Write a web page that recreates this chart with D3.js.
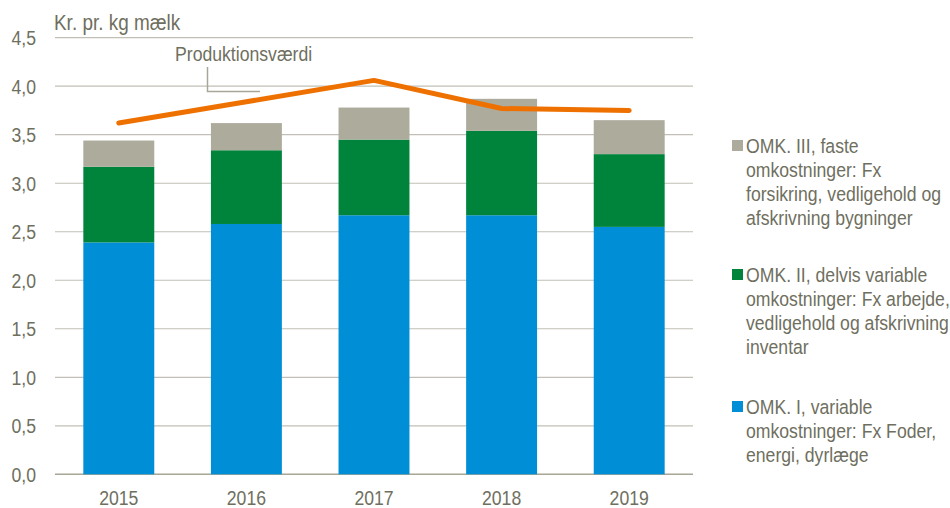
<!DOCTYPE html>
<html>
<head>
<meta charset="utf-8">
<script src="https://cdn.jsdelivr.net/npm/d3@7"></script>
<style>
  body { margin: 0; background: #fff; }
  svg text { font-family: "Liberation Sans", Arial, sans-serif; fill: #6f6f60; }
</style>
</head>
<body>
<svg id="chart" width="950" height="508"></svg>
<script>
const width = 950, height = 508;

// data
const years = ['2015', '2016', '2017', '2018', '2019'];
const omk1 = [2.39, 2.58, 2.67, 2.67, 2.55];   // variable
const omk2 = [0.78, 0.76, 0.78, 0.87, 0.75];   // delvis variable
const omk3 = [0.27, 0.28, 0.33, 0.33, 0.35];   // faste
const produktion = [3.62, 3.84, 4.06, 3.77, 3.75];
const yTicks = [0, 0.5, 1, 1.5, 2, 2.5, 3, 3.5, 4, 4.5];

const seriesKeys = ['omk1', 'omk2', 'omk3'];
const colors = { omk1: '#008fd6', omk2: '#00843c', omk3: '#adab9c' };

const legendItems = [
  { key: 'omk3', lines: ['OMK. III, faste', 'omkostninger: Fx', 'forsikring, vedligehold og', 'afskrivning bygninger'] },
  { key: 'omk2', lines: ['OMK. II, delvis variable', 'omkostninger: Fx arbejde,', 'vedligehold og afskrivning', 'inventar'] },
  { key: 'omk1', lines: ['OMK. I, variable', 'omkostninger: Fx Foder,', 'energi, dyrlæge'] }
];

const margin = { left: 55, right: 257, top: 37.7, bottom: 33.7 };
const squeeze = 0.86; // no narrow font installed, so condense glyphs

// squeeze text horizontally to look like Arial Narrow
const narrow = (sel) => {
  sel.each(function() {
    const w = this.getComputedTextLength();
    this.setAttribute('textLength', w * squeeze);
    this.setAttribute('lengthAdjust', 'spacingAndGlyphs');
  });
};

const rows = years.map((y, i) => ({ year: y, omk1: omk1[i], omk2: omk2[i], omk3: omk3[i] }));
const stack = d3.stack().keys(seriesKeys)(rows);

const x = d3.scaleBand()
  .domain(years)
  .range([margin.left, width - margin.right])
  .paddingInner(0.444)
  .paddingOuter(0.222);

const y = d3.scaleLinear()
  .domain([0, 4.5])
  .range([height - margin.bottom, margin.top]);

const svg = d3.select('#chart');

// gridlines
svg.append('g')
  .selectAll('line')
  .data(yTicks)
  .join('line')
  .attr('x1', margin.left)
  .attr('x2', width - margin.right)
  .attr('y1', d => y(d))
  .attr('y2', d => y(d))
  .attr('stroke', d => d === 0 ? '#a8a696' : '#c2c0b6')
  .attr('stroke-width', d => d === 0 ? 1.5 : 1.2);

// y tick labels
svg.append('g')
  .selectAll('text')
  .data(yTicks)
  .join('text')
  .attr('x', 36)
  .attr('y', d => y(d))
  .attr('dy', '0.36em')
  .attr('text-anchor', 'end')
  .style('font-size', '20.5px')
  .text(d => d3.format('.1f')(d).replace('.', ','))
  .call(narrow);

// unit label
svg.append('text')
  .attr('x', 54)
  .attr('y', 30)
  .style('font-size', '22px')
  .text('Kr. pr. kg mælk')
  .call(narrow);

// bars
svg.append('g')
  .selectAll('g')
  .data(stack)
  .join('g')
  .attr('fill', d => colors[d.key])
  .selectAll('rect')
  .data(d => d)
  .join('rect')
  .attr('x', d => x(d.data.year))
  .attr('width', x.bandwidth())
  .attr('y', d => y(d[1]))
  .attr('height', d => y(d[0]) - y(d[1]));

// x labels
svg.append('g')
  .selectAll('text')
  .data(years)
  .join('text')
  .attr('x', d => x(d) + x.bandwidth() / 2)
  .attr('y', 505)
  .attr('text-anchor', 'middle')
  .style('font-size', '20.5px')
  .text(d => d)
  .call(narrow);

// produktionsværdi line
const line = d3.line()
  .x((d, i) => x(years[i]) + x.bandwidth() / 2)
  .y(d => y(d));

svg.append('path')
  .datum(produktion)
  .attr('d', line)
  .attr('fill', 'none')
  .attr('stroke', '#ee7100')
  .attr('stroke-width', 5)
  .attr('stroke-linecap', 'round')
  .attr('stroke-linejoin', 'round');

// annotation
svg.append('path')
  .attr('d', 'M207.5,67V91.5H260')
  .attr('fill', 'none')
  .attr('stroke', '#a8a696')
  .attr('stroke-width', 1.5);

svg.append('text')
  .attr('x', 175)
  .attr('y', 61)
  .style('font-size', '20.5px')
  .text('Produktionsværdi')
  .call(narrow);

// legend
const legendTops = [140, 269, 401];
const lg = svg.append('g')
  .selectAll('g')
  .data(legendItems)
  .join('g')
  .attr('transform', (d, i) => `translate(732,${legendTops[i]})`);

lg.append('rect')
  .attr('width', 11)
  .attr('height', 11)
  .attr('fill', d => colors[d.key]);

lg.append('text')
  .style('font-size', '20.5px')
  .selectAll('tspan')
  .data(d => d.lines)
  .join('tspan')
  .attr('x', 14)
  .attr('y', (d, i) => 12.7 + i * 24)
  .text(d => d)
  .call(narrow);
</script>
</body>
</html>
